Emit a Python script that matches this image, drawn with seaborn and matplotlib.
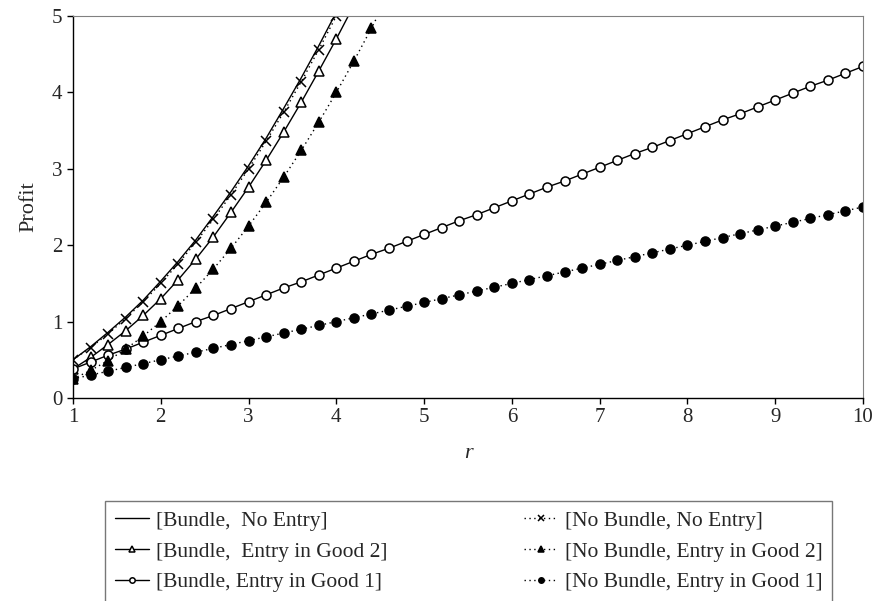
import matplotlib
matplotlib.use("Agg")
import matplotlib.pyplot as plt
import seaborn as sns

# r grid (step 0.2)
r_vals = [1.0, 1.2, 1.4, 1.6, 1.8, 2.0, 2.2, 2.4, 2.6, 2.8,
          3.0, 3.2, 3.4, 3.6, 3.8, 4.0, 4.2, 4.4, 4.6, 4.8,
          5.0, 5.2, 5.4, 5.6, 5.8, 6.0, 6.2, 6.4, 6.6, 6.8,
          7.0, 7.2, 7.4, 7.6, 7.8, 8.0, 8.2, 8.4, 8.6, 8.8,
          9.0, 9.2, 9.4, 9.6, 9.8, 10.0]

# profits (curves leaving the top are cut by the axis)
bundle_no_entry = [0.50, 0.67, 0.86, 1.06, 1.28, 1.53, 1.79, 2.07, 2.38, 2.70,
                   3.04, 3.40, 3.79, 4.19, 4.61, 5.05]
bundle_good2 = [0.38, 0.53, 0.70, 0.88, 1.08, 1.30, 1.55, 1.82, 2.11, 2.43,
                2.76, 3.11, 3.48, 3.87, 4.28, 4.70, 5.14]
bundle_good1 = [0.38, 0.47, 0.56, 0.64, 0.73, 0.82, 0.91, 1.00, 1.08, 1.17,
                1.26, 1.35, 1.44, 1.52, 1.61, 1.70, 1.79, 1.88, 1.96, 2.05,
                2.14, 2.23, 2.32, 2.40, 2.49, 2.58, 2.67, 2.76, 2.84, 2.93,
                3.02, 3.11, 3.20, 3.28, 3.37, 3.46, 3.55, 3.64, 3.72, 3.81,
                3.90, 3.99, 4.08, 4.16, 4.25, 4.34]
nobundle_no_entry = [0.50, 0.66, 0.84, 1.04, 1.26, 1.50, 1.76, 2.04, 2.34, 2.66,
                     3.00, 3.36, 3.74, 4.14, 4.56, 5.00]
nobundle_good2 = [0.25, 0.36, 0.49, 0.64, 0.81, 1.00, 1.21, 1.44, 1.69, 1.96,
                  2.25, 2.56, 2.89, 3.24, 3.61, 4.00, 4.41, 4.84, 5.29]
nobundle_good1 = [0.25, 0.30, 0.35, 0.40, 0.45, 0.50, 0.55, 0.60, 0.65, 0.70,
                  0.75, 0.80, 0.85, 0.90, 0.95, 1.00, 1.05, 1.10, 1.15, 1.20,
                  1.25, 1.30, 1.35, 1.40, 1.45, 1.50, 1.55, 1.60, 1.65, 1.70,
                  1.75, 1.80, 1.85, 1.90, 1.95, 2.00, 2.05, 2.10, 2.15, 2.20,
                  2.25, 2.30, 2.35, 2.40, 2.45, 2.50]

labels = ["[Bundle,  No Entry]", "[Bundle,  Entry in Good 2]", "[Bundle, Entry in Good 1]",
          "[No Bundle, No Entry]", "[No Bundle, Entry in Good 2]", "[No Bundle, Entry in Good 1]"]

sns.set_style("ticks")
plt.rcParams["font.family"] = ["Liberation Serif", "DejaVu Serif"]

fig, ax = plt.subplots(figsize=(8.72, 6.01), dpi=100)
fig.subplots_adjust(left=0.0837, right=0.9897, top=0.9734, bottom=0.3378)

dot = (0, (1, 2.5))
series = [
    (bundle_no_entry, "-", None, "black", 7),
    (bundle_good2, "-", "^", "white", 7),
    (bundle_good1, "-", "o", "white", 6.5),
    (nobundle_no_entry, dot, "x", "black", 7.5),
    (nobundle_good2, dot, "^", "black", 7),
    (nobundle_good1, dot, "o", "black", 6.5),
]

handles = []
for (vals, ls, mk, fc, ms), lab in zip(series, labels):
    n_before = len(ax.lines)
    sns.lineplot(x=r_vals[:len(vals)], y=vals, ax=ax, color="black",
                 linestyle=ls, linewidth=1.0, marker=mk, markersize=ms,
                 markerfacecolor=fc, markeredgecolor="black",
                 markeredgewidth=1.1, estimator=None, errorbar=None)
    line = ax.lines[n_before]
    line.set_label(lab)
    handles.append(line)

if ax.get_legend():
    ax.get_legend().remove()

ax.set_xlim(1, 10)
ax.set_ylim(0, 5)
ax.set_xticks(range(1, 11))
ax.set_yticks(range(0, 6))
ax.tick_params(axis="both", direction="out", length=4, width=1,
               labelsize=15, color="black")
ax.set_xlabel("r", fontsize=16, style="italic", labelpad=12)
ax.set_ylabel("Profit", fontsize=16, labelpad=10)

for side in ["top", "right"]:
    ax.spines[side].set_visible(True)
    ax.spines[side].set_color("#808080")
for side in ["left", "bottom"]:
    ax.spines[side].set_color("black")
    ax.spines[side].set_linewidth(1.0)

# legend box runs to the bottom edge as in the original
leg = fig.legend(handles=handles, labels=labels, ncol=2, loc="upper left",
                 bbox_to_anchor=(0.1204, 0.1664), fontsize=15.5,
                 frameon=True, fancybox=False, edgecolor="#555555",
                 markerscale=0.6, handlelength=1.6, handletextpad=0.3,
                 columnspacing=6.35, labelspacing=0.5, borderpad=0.45,
                 borderaxespad=0)
leg.get_frame().set_linewidth(1.0)

fig.savefig("out.png", dpi=100)
